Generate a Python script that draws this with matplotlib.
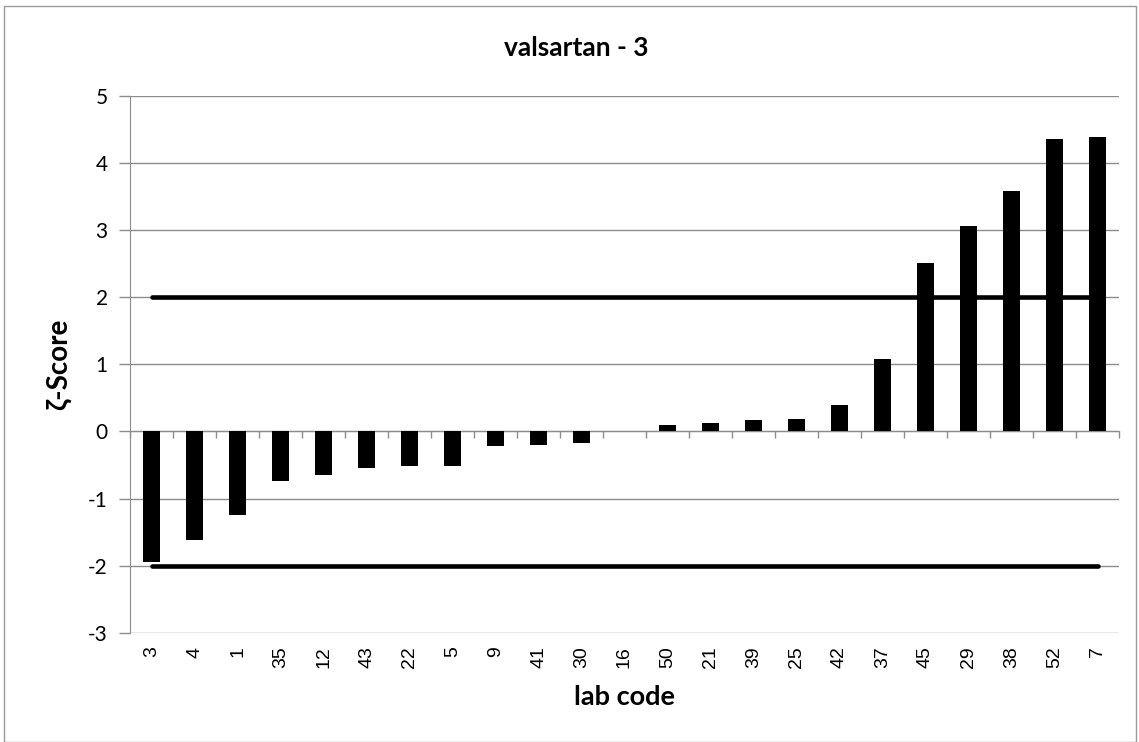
import matplotlib
matplotlib.use("Agg")
import matplotlib.pyplot as plt
from matplotlib.patches import Rectangle

labs = ["3", "4", "1", "35", "12", "43", "22", "5", "9", "41", "30", "16",
        "50", "21", "39", "25", "42", "37", "45", "29", "38", "52", "7"]
zscores = [-1.95, -1.62, -1.24, -0.74, -0.65, -0.545, -0.52, -0.515, -0.21, -0.20,
           -0.17, 0.01, 0.09, 0.13, 0.165, 0.18, 0.39, 1.075, 2.51, 3.06, 3.58, 4.36, 4.39]
limits = [2, -2]
yticks = [-3, -2, -1, 0, 1, 2, 3, 4, 5]

GRID = "#8c8c8c"
fig = plt.figure(figsize=(11.39, 7.42), dpi=100)
fig.patches.append(Rectangle((4/1139, 0), 1132/1139, 1 - 6/742, transform=fig.transFigure,
                             fill=False, edgecolor="#9a9a9a", lw=1.0))
ax = fig.add_axes([130/1139, 1 - 632.7/742, (1119-130)/1139, (632.7-96)/742])

x = list(range(len(labs)))
ax.bar(x, zscores, width=0.4, color="black", zorder=3)
for v in limits:
    ax.plot([x[0], x[-1]], [v, v], color="black", lw=3.3, solid_capstyle="round", zorder=4)

ax.set_xlim(-0.5, len(labs) - 0.5)
ax.set_ylim(-3, 5)
ax.set_yticks(yticks)
ax.set_yticklabels([str(t) for t in yticks], fontsize=15, family=["Lato", "DejaVu Sans"])
ax.yaxis.grid(True, color=GRID, lw=1.0, zorder=0)
ax.tick_params(axis="y", length=8, color=GRID, width=1.0, pad=8)

for s in ["top", "right"]:
    ax.spines[s].set_visible(False)
ax.spines["left"].set_color(GRID)
ax.spines["bottom"].set_position(("data", 0))
ax.spines["bottom"].set_color(GRID)
ax.set_xticks([i - 0.5 for i in range(len(labs) + 1)])
ax.set_xticklabels([])
ax.tick_params(axis="x", length=5, color=GRID, width=1.0, direction="out")

sec = ax.secondary_xaxis(0.0)
sec.set_xticks(x)
sec.set_xticklabels(labs, rotation=90, fontsize=14, family=["Liberation Sans", "DejaVu Sans"])
sec.tick_params(length=0, pad=10)
sec.spines["bottom"].set_visible(False)
sec.set_xlabel("lab code", fontsize=19.5, fontweight="bold", family=["Lato", "DejaVu Sans"], labelpad=12)

ax.set_ylabel("ζ-Score", fontsize=20, fontweight="bold", family=["Lato", "DejaVu Sans"], labelpad=12)
fig.text(576/1139, 1 - 48/742, "valsartan - 3", ha="center", va="center",
         fontsize=19, fontweight="bold", family=["Lato", "DejaVu Sans"])

fig.savefig("out.png", dpi=100)
